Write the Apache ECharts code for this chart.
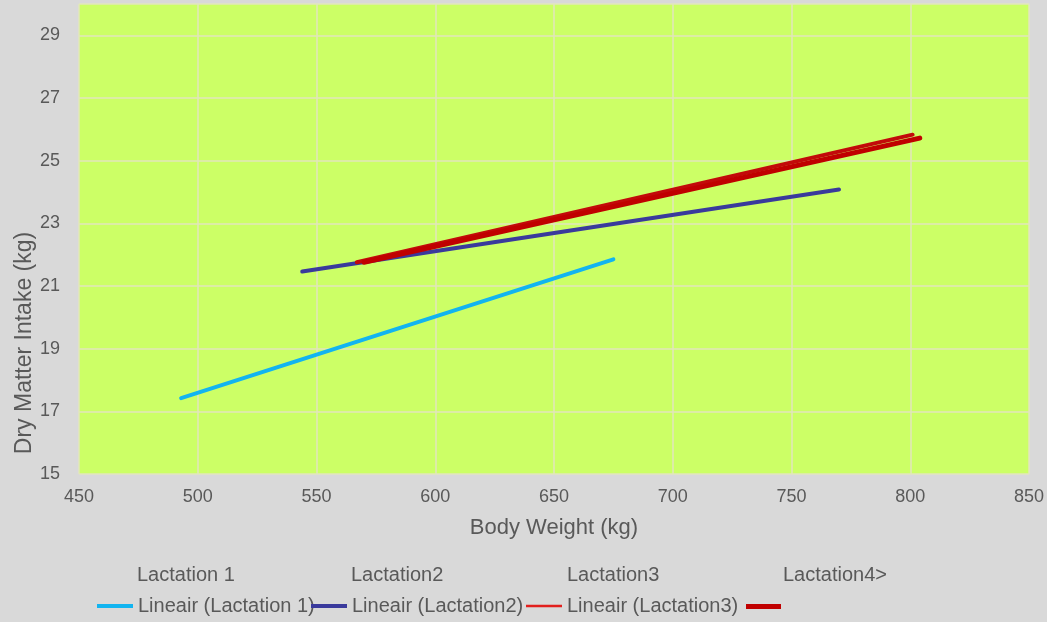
<!DOCTYPE html>
<html>
<head>
<meta charset="utf-8">
<script src="https://cdn.jsdelivr.net/npm/echarts@6/dist/echarts.min.js"></script>
<style>
html,body{margin:0;padding:0;background:#d9d9d9;}
#c{width:1047px;height:622px;}
</style>
</head>
<body>
<div id="c"></div>
<script>
// Data (trend line end points)
const seriesNames = ['Lactation 1', 'Lactation2', 'Lactation3', 'Lactation4>'];
const trendNames = ['Lineair (Lactation 1)', 'Lineair (Lactation2)', 'Lineair (Lactation3)', 'Lineair (Lactation4>)'];
const trendLact1 = [[493, 17.42], [675, 21.85]];
const trendLact2 = [[544, 21.46], [770, 24.08]];
const trendLact3 = [[567, 21.76], [801, 25.83]];
const trendLact4 = [[570, 21.76], [804, 25.72]];
const xTicks = [450, 500, 550, 600, 650, 700, 750, 800, 850];
const yTicks = [15, 17, 19, 21, 23, 25, 27, 29];

const FONT = 'Liberation Sans, Arial, sans-serif';
const TXT = '#595959';
const colors = ['#12B4F0', '#3A3A9C', '#C20A0A', '#C00000'];
const legendColors = ['#12B4F0', '#3A3A9C', '#E2201E', '#C00000'];
const widths = [4, 4, 4, 5];
const trends = [trendLact1, trendLact2, trendLact3, trendLact4];

const series = [];
seriesNames.forEach(n => series.push({ name: n, type: 'scatter', data: [], symbolSize: 0 }));
trends.forEach((d, i) => series.push({
  name: trendNames[i], type: 'line', data: d, symbol: 'none', showSymbol: false,
  lineStyle: { color: colors[i], width: widths[i], cap: 'round' },
  itemStyle: { color: colors[i] }, z: 2 + i, silent: true, animation: false
}));

const legendText = { color: TXT, fontFamily: FONT, fontSize: 20 };
const legends = [];
const row1X = [132, 346, 562, 778];
seriesNames.forEach((n, i) => legends.push({
  data: [n], left: row1X[i], top: 565, itemWidth: 0, itemHeight: 0, icon: 'rect',
  itemGap: 0, textStyle: legendText, selectedMode: false, padding: 0
}));
const row2X = [97, 311, 526, 746];
const row2W = [36, 36, 36, 35];
const row2LW = [4, 4, 2.5, 5];
const row2Top = [596, 596, 596, 604];
trendNames.forEach((n, i) => legends.push({
  data: [{ name: n, icon: 'rect', itemStyle: { color: legendColors[i] } }],
  left: row2X[i], top: row2Top[i], itemWidth: row2W[i], itemHeight: row2LW[i],
  textStyle: legendText, selectedMode: false, padding: 0,
  formatter: i === 3 ? () => '' : undefined
}));

const chart = echarts.init(document.getElementById('c'), null, { renderer: 'canvas' });
chart.setOption({
  backgroundColor: '#d9d9d9',
  animation: false,
  grid: { left: 79, right: 18, top: 4, bottom: 148, show: true, backgroundColor: '#ccff66', borderWidth: 0, outerBoundsMode: 'none', containLabel: false },
  xAxis: {
    type: 'value', min: xTicks[0], max: xTicks[xTicks.length - 1], interval: 50,
    name: 'Body Weight (kg)', nameLocation: 'middle', nameGap: 43,
    nameTextStyle: { color: TXT, fontFamily: FONT, fontSize: 22 },
    axisLine: { show: false }, axisTick: { show: false },
    axisLabel: { color: TXT, fontFamily: FONT, fontSize: 18, margin: 14 },
    splitLine: { show: true, lineStyle: { color: '#e2e6bc', width: 1.5 } }
  },
  yAxis: {
    type: 'value', min: yTicks[0], max: 30, interval: 2,
    name: 'Dry Matter Intake (kg)', nameLocation: 'middle', nameGap: 43, nameMoveOverlap: false,
    nameTextStyle: { color: TXT, fontFamily: FONT, fontSize: 23, padding: [0, 208, 0, 0] },
    axisLine: { show: false }, axisTick: { show: false },
    axisLabel: { color: TXT, fontFamily: FONT, fontSize: 18, margin: 19, showMaxLabel: false },
    splitLine: { show: true, lineStyle: { color: '#e2e6bc', width: 1.5 } }
  },
  legend: legends,
  series: series
});
</script>
</body>
</html>
